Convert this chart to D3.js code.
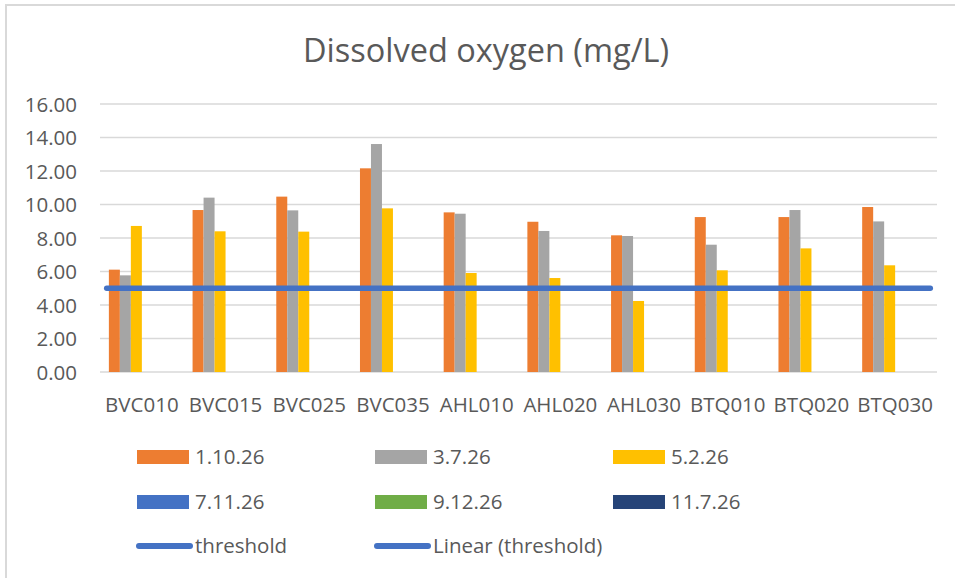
<!DOCTYPE html>
<meta charset="utf-8">
<style>
body {
  margin: 0;
  background: #fff;
  font-family: "Open Sans", sans-serif;
}
svg text {
  font-family: "Open Sans", sans-serif;
}
.grid line {
  stroke: #d9d9d9;
  stroke-width: 1.5;
}
.axis text {
  fill: #595959;
  font-size: 20.5px;
}
.legend text {
  fill: #595959;
  font-size: 20.5px;
}
</style>
<body>
<svg width="955" height="578"></svg>
<script src="https://cdn.jsdelivr.net/npm/d3@7"></script>
<script>
// data
var sites = ["BVC010", "BVC015", "BVC025", "BVC035", "AHL010", "AHL020", "AHL030", "BTQ010", "BTQ020", "BTQ030"];
var series = ["1.10.26", "3.7.26", "5.2.26", "7.11.26", "9.12.26", "11.7.26"];
var colors = ["#ed7d31", "#a5a5a5", "#ffc000", "#4472c4", "#70ad47", "#264478"];
var oct26 = [6.11, 9.67, 10.47, 12.16, 9.53, 8.97, 8.16, 9.25, 9.25, 9.85];
var jul26 = [5.77, 10.41, 9.65, 13.61, 9.45, 8.42, 8.12, 7.60, 9.67, 8.99];
var feb26 = [8.72, 8.40, 8.38, 9.77, 5.91, 5.61, 4.24, 6.07, 7.38, 6.37];
var threshold = 5;
var yTicks = [0, 2, 4, 6, 8, 10, 12, 14, 16];

var values = [oct26, jul26, feb26, [], [], []];

var svg = d3.select("svg");

// chart border (cropped on the right / bottom)
svg.append("rect")
    .attr("x", 6).attr("y", 5)
    .attr("width", 970).attr("height", 590)
    .attr("fill", "none")
    .attr("stroke", "#d9d9d9")
    .attr("stroke-width", 2);

var plotLeft = 100, plotRight = 937, plotTop = 104, plotBottom = 372;

var x0 = d3.scaleBand().domain(sites).range([plotLeft, plotRight]).padding(0);
var gap = x0.bandwidth() * 0.106;
var x1 = d3.scaleBand().domain(series).range([gap, x0.bandwidth() - gap]);
var y = d3.scaleLinear().domain([0, 16]).range([plotBottom, plotTop]);

// title
svg.append("text")
    .attr("x", 486).attr("y", 62)
    .attr("text-anchor", "middle")
    .attr("fill", "#595959")
    .style("font-size", "32.5px")
    .text("Dissolved oxygen (mg/L)");

// gridlines
svg.append("g")
    .attr("class", "grid")
    .selectAll("line")
    .data(yTicks)
    .enter().append("line")
      .attr("x1", plotLeft).attr("x2", plotRight)
      .attr("y1", function(d) { return y(d); })
      .attr("y2", function(d) { return y(d); });

// y axis labels
svg.append("g")
    .attr("class", "axis")
    .attr("transform", "translate(77,0)")
    .call(d3.axisLeft(y).tickValues(yTicks).tickSize(0).tickPadding(0).tickFormat(d3.format(".2f")))
    .call(function(g) { g.select(".domain").remove(); })
    .selectAll("text")
      .attr("dy", "0.36em");

// x axis labels
svg.append("g")
    .attr("class", "axis")
    .attr("transform", "translate(0," + plotBottom + ")")
    .call(d3.axisBottom(x0).tickSize(0).tickPadding(25))
    .call(function(g) { g.select(".domain").remove(); });

// bars
series.forEach(function(s, i) {
  svg.append("g")
      .attr("fill", colors[i])
    .selectAll("rect")
    .data(values[i])
    .enter().append("rect")
      .attr("x", function(d, j) { return x0(sites[j]) + x1(s); })
      .attr("y", function(d) { return y(d); })
      .attr("width", x1.bandwidth())
      .attr("height", function(d) { return y(0) - y(d); });
});

// threshold line (extends a little past first and last category)
var xi = d3.scaleLinear().domain([-0.5, sites.length - 0.5]).range([plotLeft, plotRight]);
svg.append("line")
    .attr("x1", xi(-0.42)).attr("x2", xi(sites.length - 0.58))
    .attr("y1", y(threshold)).attr("y2", y(threshold))
    .attr("stroke", "#4472c4")
    .attr("stroke-width", 5.5)
    .attr("stroke-linecap", "round");

// legend
var legendItems = series.map(function(s, i) { return {name: s, color: colors[i], type: "box"}; })
    .concat([{name: "threshold", color: "#4472c4", type: "line"},
             {name: "Linear (threshold)", color: "#4472c4", type: "line"}]);

var colX = [137, 375, 613], rowY = [457, 502, 546];

var leg = svg.append("g").attr("class", "legend")
  .selectAll("g")
  .data(legendItems)
  .enter().append("g")
    .attr("transform", function(d, i) { return "translate(" + colX[i % 3] + "," + rowY[Math.floor(i / 3)] + ")"; });

leg.filter(function(d) { return d.type == "box"; })
  .append("rect")
    .attr("x", 0).attr("y", -7)
    .attr("width", 52).attr("height", 14)
    .attr("fill", function(d) { return d.color; });

leg.filter(function(d) { return d.type == "line"; })
  .append("line")
    .attr("x1", 2).attr("x2", 53)
    .attr("stroke", function(d) { return d.color; })
    .attr("stroke-width", 6)
    .attr("stroke-linecap", "round");

leg.append("text")
    .attr("x", 58)
    .attr("dy", "0.36em")
    .text(function(d) { return d.name; });
</script>
</body>
